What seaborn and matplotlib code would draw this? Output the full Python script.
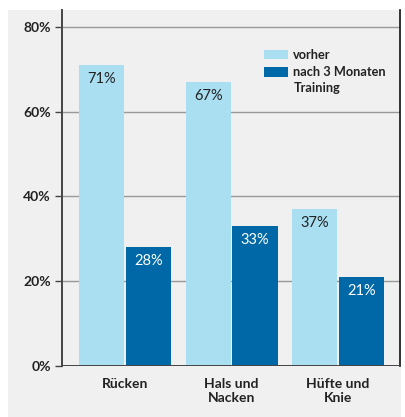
import pandas as pd
import seaborn as sns
import matplotlib.pyplot as plt
from matplotlib.patches import Rectangle

# data
categories = ["Rücken", "Hals und\nNacken", "Hüfte und\nKnie"]
vorher = [71, 67, 37]
nachher = [28, 33, 21]
series_names = ["vorher", "nach 3 Monaten"]
series_extra = "Training"  # second line of the 2nd legend entry
yticks = [0, 20, 40, 60, 80]

df = pd.DataFrame({
    "cat": categories * 2,
    "val": vorher + nachher,
    "grp": [series_names[0]] * 3 + [series_names[1]] * 3,
})

sns.set_style("white")
plt.rcParams['font.family'] = ['Lato', 'DejaVu Sans']

bg = "#f0f0f0"
palette = {series_names[0]: "#aadff2", series_names[1]: "#0068a6"}

fig = plt.figure(figsize=(4.05, 4.17), dpi=100)
fig.patches.append(Rectangle((8 / 405, 0), (401 - 8) / 405, (417 - 10) / 417,
                             transform=fig.transFigure, facecolor=bg,
                             edgecolor="none", zorder=-1))
ax = fig.add_axes([62 / 405, (417 - 366) / 417, (400 - 62) / 405, (366 - 10) / 417])
ax.set_facecolor(bg)

sns.barplot(data=df, x="cat", y="val", hue="grp", palette=palette,
            width=0.88, gap=0.04, saturation=1, linewidth=0, ax=ax, zorder=3)

ax.set_xlim(-0.59, 2.58)
ax.set_ylim(0, 84)
ax.set_yticks(yticks)
ax.set_yticklabels([f"{t}%" for t in yticks], fontweight="bold", fontsize=10, color="#222222")
ax.set_xticks(range(3))
ax.set_xticklabels(categories, fontweight="bold", fontsize=10, color="#222222", linespacing=1.2)
ax.set(xlabel=None, ylabel=None)
ax.yaxis.grid(True, color="#999999", linewidth=1, zorder=0)
ax.set_axisbelow(True)

for s in ["top", "bottom"]:
    ax.spines[s].set_visible(False)
ax.spines["left"].set_color("#444444")
ax.spines["left"].set_linewidth(1.4)
ax.spines["right"].set_color("#111111")
ax.spines["right"].set_linewidth(1.2)
ax.tick_params(axis="y", left=True, length=5, width=1, color="#444444", pad=3)
ax.tick_params(axis="x", bottom=False, pad=5)
ax.axhline(0, color="#444444", linewidth=1.4, zorder=4)

txtcolors = ["#222222", "white"]
for cont, tc in zip(ax.containers, txtcolors):
    ax.bar_label(cont, labels=[f"{int(v)}%" for v in cont.datavalues],
                 padding=-15, fontsize=10.5, color=tc)

h, l = ax.get_legend_handles_labels()
leg = ax.legend(h, l, loc="upper left", bbox_to_anchor=((264 - 62) / 338, (366 - 49) / 356),
                frameon=False, borderpad=0, borderaxespad=0,
                handlelength=1.9, handleheight=0.78, handletextpad=0.4, labelspacing=0.42,
                prop={"weight": "bold", "size": 9.2})

# second line of the legend label, under "nach 3 Monaten"
fig.canvas.draw()
bb = leg.get_texts()[1].get_window_extent()
ax.annotate(series_extra, xy=(bb.x0, bb.y0), xycoords="figure pixels",
            xytext=(0, -4), textcoords="offset pixels", ha="left", va="top",
            fontweight="bold", fontsize=9.2, color="#222222")
for t in leg.get_texts():
    t.set_color("#222222")

plt.savefig("out.png", dpi=100)
